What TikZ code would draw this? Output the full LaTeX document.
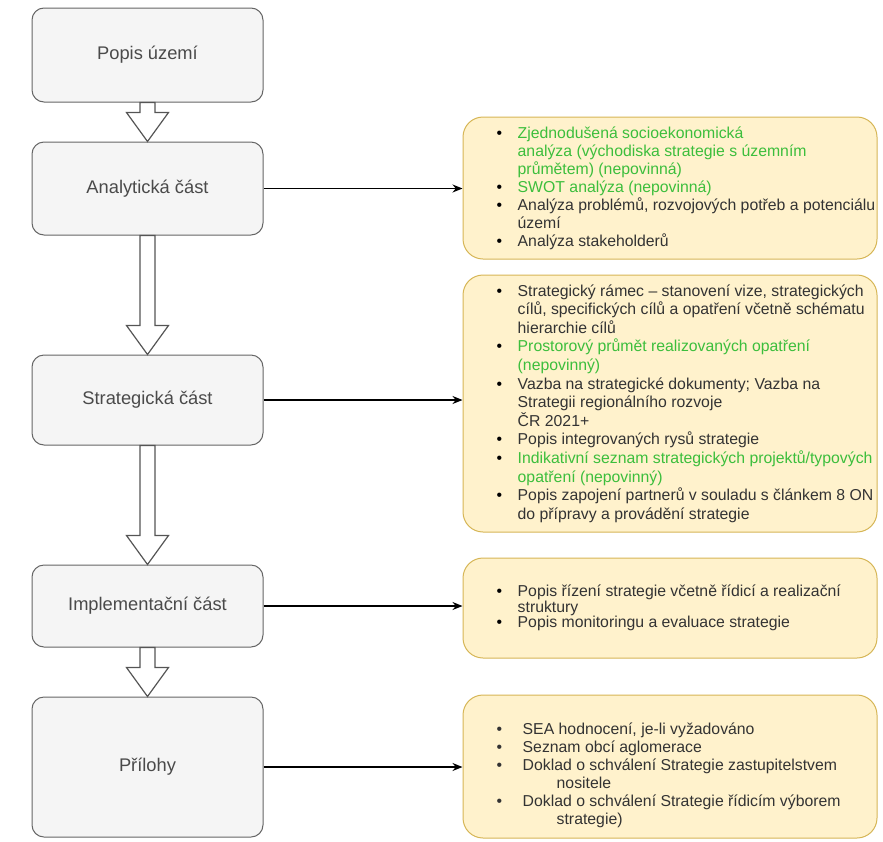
\documentclass[tikz,border=0pt]{standalone}
\usepackage{fontspec}
\setmainfont{Liberation Sans}
\usetikzlibrary{calc,arrows.meta}

\definecolor{partfill}{HTML}{F5F5F5}
\definecolor{partline}{HTML}{666666}
\definecolor{parttext}{HTML}{4A4A4A}
\definecolor{notefill}{HTML}{FFF2CC}
\definecolor{noteline}{HTML}{D6B656}
\definecolor{notetext}{HTML}{333333}
\definecolor{optgreen}{HTML}{3CBE3C}
\definecolor{arrowline}{HTML}{555555}

\newcommand\bul{\makebox[21pt][l]{\textcolor{black}{\textbullet}}}
\newcommand\cont{\hspace*{21pt}}
\newcommand\grn[1]{\textcolor{optgreen}{#1}}

\begin{document}
\begin{tikzpicture}[x=1pt,y=-1pt,
  part/.style={draw=partline, fill=partfill, rounded corners=12pt, line width=1pt,
    text=parttext, font=\fontsize{18.3}{22}\selectfont, minimum width=231pt, inner sep=0pt},
  note/.style={draw=noteline, fill=notefill, rounded corners=20pt, line width=1pt,
    minimum width=414pt, inner sep=0pt},
  items/.style={align=left, inner sep=0pt, text=notetext, anchor=west},
  link/.style={-{Stealth[length=10pt,width=8pt]}, line width=1.2pt},
  hollow/.style={draw=arrowline, fill=white, line width=1.2pt, line join=miter}]

\newcommand\hollowarrow[2]{\draw[hollow] let \p1=(#1.south), \p2=(#2.north) in
  (\x1-7.5pt,\y1) -- (\x1+7.5pt,\y1) -- (\x1+7.5pt,\y2+29pt) -- (\x1+21pt,\y2+29pt)
  -- (\x2,\y2) -- (\x1-21pt,\y2+29pt) -- (\x1-7.5pt,\y2+29pt) -- cycle;}

\useasboundingbox (0,0) rectangle (883,841);

% left column
\node[part, minimum height=94pt] (popis) at (147.5,55) {Popis území};
\node[part, minimum height=93pt] (analyza) at (147.5,188.5) {Analytická část};
\node[part, minimum height=90pt] (strategie) at (147.5,400) {Strategická část};
\node[part, minimum height=82pt] (implementace) at (147.5,606) {Implementační část};
\node[part, minimum height=140pt] (prilohy) at (147.5,767) {Přílohy};

% right column
\node[note, minimum height=142pt] (note1) at (670,188) {};
\node[note, minimum height=257pt] (note2) at (670,403.5) {};
\node[note, minimum height=100pt] (note3) at (670,608) {};
\node[note, minimum height=143pt] (note4) at (670,766.5) {};

\node[items, font=\fontsize{15.8}{18}\selectfont] (text1) at ([xshift=34pt]note1.west)
  {\bul\grn{Zjednodušená socioekonomická}\\
   \cont\grn{analýza (východiska strategie s územním}\\
   \cont\grn{průmětem) (nepovinná)}\\
   \bul\grn{SWOT analýza (nepovinná)}\\
   \bul Analýza problémů, rozvojových potřeb a potenciálu\\
   \cont území\\
   \bul Analýza stakeholderů};

\node[items, font=\fontsize{15.8}{18.6}\selectfont] (text2) at ([xshift=34pt]note2.west)
  {\bul Strategický rámec – stanovení vize, strategických\\
   \cont cílů, specifických cílů a opatření včetně schématu\\
   \cont hierarchie cílů\\
   \bul\grn{Prostorový průmět realizovaných opatření}\\
   \cont\grn{(nepovinný)}\\
   \bul Vazba na strategické dokumenty; Vazba na\\
   \cont Strategii regionálního rozvoje\\
   \cont ČR 2021+\\
   \bul Popis integrovaných rysů strategie\\
   \bul\grn{Indikativní seznam strategických projektů/typových}\\
   \cont\grn{opatření (nepovinný)}\\
   \bul Popis zapojení partnerů v souladu s článkem 8 ON\\
   \cont do přípravy a provádění strategie};

\node[items, font=\fontsize{15.8}{15.6}\selectfont] (text3) at ([xshift=34pt]note3.west)
  {\bul Popis řízení strategie včetně řídicí a realizační\\
   \cont struktury\\
   \bul Popis monitoringu a evaluace strategie};

\node[items, font=\fontsize{15.8}{18}\selectfont] (text4) at ([xshift=34pt,yshift=-8.5pt]note4.west)
  {\makebox[26pt][l]{\textbullet}SEA hodnocení, je-li vyžadováno\\
   \makebox[26pt][l]{\textbullet}Seznam obcí aglomerace\\
   \makebox[26pt][l]{\textbullet}Doklad o schválení Strategie zastupitelstvem\\
   \hspace*{60pt}nositele\\
   \makebox[26pt][l]{\textbullet}Doklad o schválení Strategie řídicím výborem\\
   \hspace*{60pt}strategie)};

% hollow arrows down the left column
\hollowarrow{popis}{analyza}
\hollowarrow{analyza}{strategie}
\hollowarrow{strategie}{implementace}
\hollowarrow{implementace}{prilohy}

% links to the notes
\draw[link](analyza.east)--(analyza.east -| note1.west);
\draw[link](strategie.east)--(strategie.east -| note2.west);
\draw[link](implementace.east)--(implementace.east -| note3.west);
\draw[link](prilohy.east)--(prilohy.east -| note4.west);

\end{tikzpicture}
\end{document}
